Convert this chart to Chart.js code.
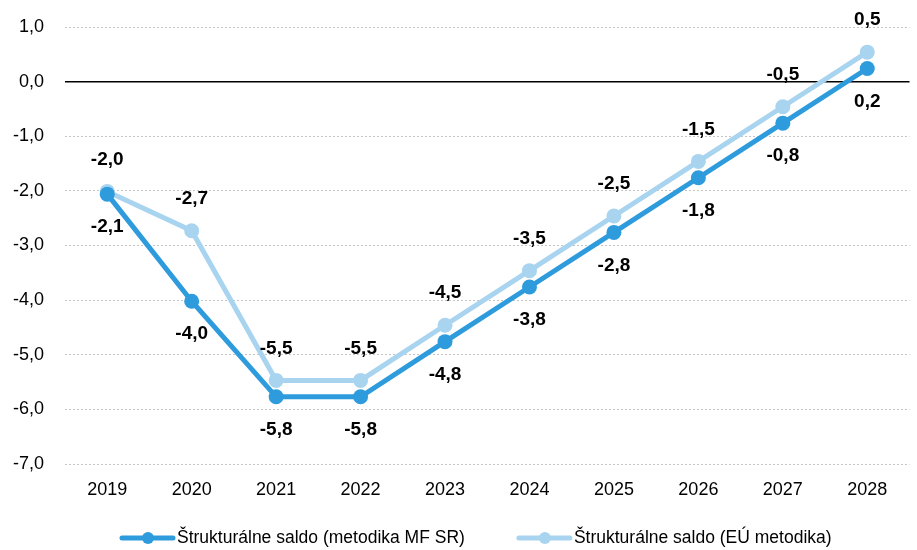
<!DOCTYPE html>
<html>
<head>
<meta charset="utf-8">
<script src="https://cdn.jsdelivr.net/npm/chart.js@4/dist/chart.umd.min.js"></script>
<style>
html,body{margin:0;padding:0;background:#fff;overflow:hidden;}
#wrap{position:relative;width:917px;height:550px;}
</style>
</head>
<body>
<div id="wrap"><canvas id="c" width="917" height="550"></canvas></div>
<script>
const categories = ['2019','2020','2021','2022','2023','2024','2025','2026','2027','2028'];
const seriesNames = ['Štrukturálne saldo (metodika MF SR)', 'Štrukturálne saldo (EÚ metodika)'];
const mfValues = [-2.06, -4.02, -5.77, -5.77, -4.76, -3.76, -2.76, -1.76, -0.76, 0.24];
const euValues = [-2.01, -2.73, -5.47, -5.47, -4.46, -3.46, -2.46, -1.46, -0.46, 0.54];
const yTicks = [-7, -6, -5, -4, -3, -2, -1, 0, 1];

const DARK = '#2E9BDC';
const LIGHT = '#A8D4F0';
const FONT = '"Liberation Sans", Arial, sans-serif';

function fmt(v){ return v.toFixed(1).replace('.', ','); }

const labelPlugin = {
  id: 'valueLabels',
  afterDatasetsDraw(chart){
    const ctx = chart.ctx;
    ctx.save();
    ctx.font = 'bold 19px ' + FONT;
    ctx.fillStyle = '#000';
    ctx.textAlign = 'center';
    ctx.textBaseline = 'middle';
    chart.data.datasets.forEach((ds, di) => {
      const meta = chart.getDatasetMeta(di);
      meta.data.forEach((pt, i) => {
        const off = di === 0 ? 33 : -32;
        ctx.fillText(fmt(ds.data[i]), pt.x, pt.y + off);
      });
    });
    ctx.restore();
  }
};

const zeroLine = {
  id: 'zeroLine',
  beforeDatasetsDraw(chart){
    const y = chart.scales.y.getPixelForValue(0);
    const ctx = chart.ctx;
    ctx.save();
    ctx.strokeStyle = '#000'; ctx.lineWidth = 1.5;
    ctx.beginPath(); ctx.moveTo(chart.chartArea.left, y); ctx.lineTo(chart.chartArea.right, y); ctx.stroke();
    ctx.restore();
  }
};

const customLegend = {
  id: 'customLegend',
  afterDraw(chart){
    const ctx = chart.ctx;
    ctx.save();
    ctx.font = '17.5px ' + FONT;
    ctx.textBaseline = 'middle';
    ctx.textAlign = 'left';
    const y = 538;
    let x = 120;
    chart.data.datasets.forEach((ds, i) => {
      const c = ds.borderColor;
      ctx.strokeStyle = c; ctx.lineWidth = 5; ctx.lineCap = 'round';
      ctx.beginPath(); ctx.moveTo(x + 2, y); ctx.lineTo(x + 53, y); ctx.stroke();
      ctx.fillStyle = c;
      ctx.beginPath(); ctx.arc(x + 28, y, 6, 0, Math.PI * 2); ctx.fill();
      ctx.fillStyle = '#000';
      ctx.fillText(ds.label, x + 57, y);
      x = x + 57 + ctx.measureText(ds.label).width + 52;
    });
    ctx.restore();
  }
};

new Chart(document.getElementById('c'), {
  type: 'line',
  data: {
    labels: categories,
    datasets: [
      { label: seriesNames[0], data: mfValues, borderColor: DARK, backgroundColor: DARK,
        borderWidth: 5, pointRadius: 7.5, pointHoverRadius: 7.5, pointBackgroundColor: DARK,
        pointBorderWidth: 0, tension: 0, order: 1 },
      { label: seriesNames[1], data: euValues, borderColor: LIGHT, backgroundColor: LIGHT,
        borderWidth: 5, pointRadius: 7.5, pointHoverRadius: 7.5, pointBackgroundColor: LIGHT,
        pointBorderWidth: 0, tension: 0, order: 2 }
    ]
  },
  options: {
    responsive: false,
    animation: false,
    devicePixelRatio: 1,
    layout: { padding: { top: 27, right: -8, left: 0, bottom: 46 } },
    plugins: {
      tooltip: { enabled: false },
      legend: { display: false }
    },
    scales: {
      x: {
        offset: true,
        afterFit(scale){ scale.height = 40; },
        grid: { display: false, drawTicks: false },
        border: { display: false },
        ticks: { color: '#000', padding: 15, font: { family: FONT, size: 18 } }
      },
      y: {
        min: -7, max: 1,
        afterBuildTicks(scale){ scale.ticks = yTicks.map(v => ({ value: v })); },
        afterFit(scale){ scale.width = 65; scale.paddingTop = 0; scale.paddingBottom = 0; },
        border: { display: false, dash: [2, 2] },
        grid: {
          drawTicks: false,
          color: ctx => ctx.tick && ctx.tick.value === 0 ? 'rgba(0,0,0,0)' : '#C4C4C4',
          lineWidth: 1
        },
        ticks: {
          color: '#000', padding: 21, font: { family: FONT, size: 18 },
          callback: v => fmt(v)
        }
      }
    }
  },
  plugins: [zeroLine, labelPlugin, customLegend]
});
</script>
</body>
</html>
